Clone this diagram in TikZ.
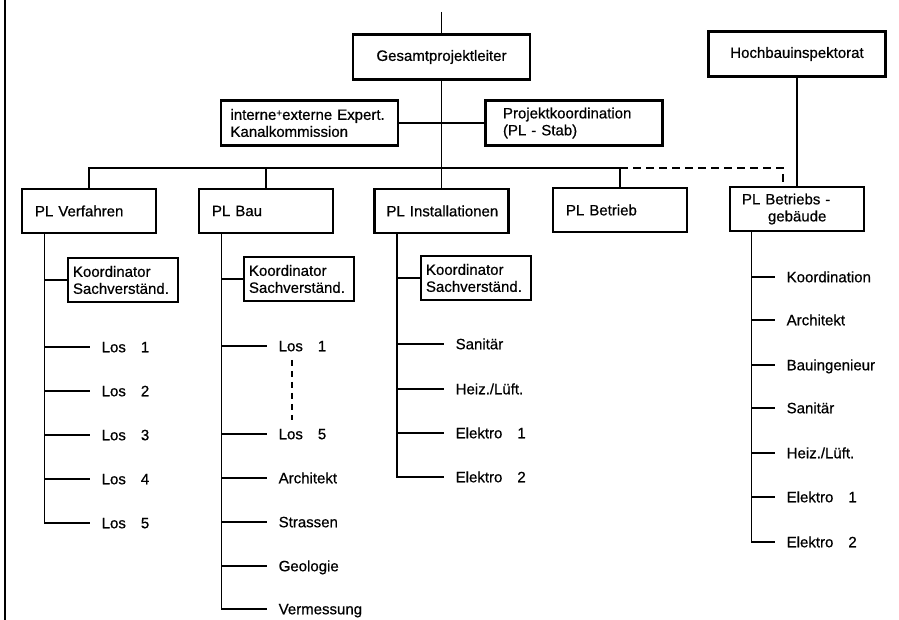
\documentclass[tikz,border=0pt]{standalone}
\usepackage{fontspec}
\setmainfont{Liberation Sans}[FakeBold=0.6]
\begin{document}
\begin{tikzpicture}[x=1pt,y=-1pt,line width=1.4pt,
    font=\fontsize{15}{17}\selectfont,
    head/.style={draw,line width=2.8pt,minimum width=177pt,minimum height=45pt},
    staff/.style={draw,line width=2.8pt,text width=158pt,inner xsep=9.5pt,minimum height=45pt,align=left},
    pl/.style={draw,line width=2.8pt,text width=116pt,inner xsep=9pt,minimum height=44pt,align=left},
    koord/.style={draw,line width=2.8pt,text width=100pt,inner xsep=5pt,minimum height=44pt,align=left},
    item/.style={anchor=west,inner xsep=11pt,inner ysep=3pt,text height=10.5pt,text depth=0pt}]
  \useasboundingbox (0,0) rectangle (899,620);
  \draw (5,0) -- (5,620);
  \draw
    (441.5,57) node[head] (gpl) {Gesamtprojektleiter}
    (797,54) node[head] (hbi) {Hochbauinspektorat}
    (309.5,123) node[staff] (exp) {interne\raisebox{.45ex}{\fontsize{10}{10}\selectfont+}externe Expert.\\Kanalkommission}
    (574,123) node[staff] (pk) {\hspace*{8pt}Projektkoordination\\\hspace*{8pt}(PL - Stab)}
    (89,211) node[pl] (verf) {\hspace*{4pt}PL Verfahren}
    (266,211) node[pl] (bau) {\hspace*{4pt}PL Bau}
    (441.5,211) node[pl] (inst) {\hspace*{3pt}PL Installationen}
    (620,210) node[pl] (betr) {\hspace*{4pt}PL Betrieb}
    (797,209) node[pl] (bgeb) {\hspace*{3pt}PL Betriebs -\\\hspace*{29pt}gebäude}
    (123,280) node[koord] (kv) {Koordinator\\Sachverständ.}
    (299,279) node[koord] (kb) {Koordinator\\Sachverständ.}
    (476,278) node[koord] (ki) {Koordinator\\Sachverständ.};
  % Los PL Verfahren
  \draw
    (90,347) node[item] (v1) {Los\quad 1}
    (90,391) node[item] (v2) {Los\quad 2}
    (90,435) node[item] (v3) {Los\quad 3}
    (90,479) node[item] (v4) {Los\quad 4}
    (90,523) node[item] (v5) {Los\quad 5};
  % PL Bau
  \draw
    (267,346) node[item] (b1) {Los\quad 1}
    (267,434) node[item] (b2) {Los\quad 5}
    (267,478) node[item] (b3) {Architekt}
    (267,522) node[item] (b4) {Strassen}
    (267,566) node[item] (b5) {Geologie}
    (267,609) node[item] (b6) {Vermessung};
  % PL Installationen
  \draw
    (444,344) node[item] (i1) {Sanitär}
    (444,389) node[item] (i2) {Heiz./Lüft.}
    (444,433) node[item] (i3) {Elektro\quad 1}
    (444,477) node[item] (i4) {Elektro\quad 2};
  % PL Betriebsgebaeude
  \draw
    (775,277) node[item] (g1) {Koordination}
    (775,320) node[item] (g2) {Architekt}
    (775,365) node[item] (g3) {Bauingenieur}
    (775,408) node[item] (g4) {Sanitär}
    (775,453) node[item] (g5) {Heiz./Lüft.}
    (775,497) node[item] (g6) {Elektro\quad 1}
    (775,542) node[item] (g7) {Elektro\quad 2};
  \coordinate (top) at (441.5,12);
  \coordinate (bus) at (441.5,168);
  \coordinate (vs) at ([xshift=24pt]verf.south west);
  \coordinate (bs) at ([xshift=24pt]bau.south west);
  \coordinate (is) at ([xshift=24pt]inst.south west);
  \coordinate (gs) at ([xshift=23pt]bgeb.south west);
  \begin{scope}[-]
    \draw (top) -- (gpl);
    \draw (gpl) -- (inst);
    \draw (exp) -- (pk);
    \draw (hbi) -- (bgeb);
    \draw (verf.north) |- (bus) -| (betr.north);
    \draw (bau.north) -- (bau.north |- bus);
    \draw[dash pattern=on 8pt off 5pt] (betr.north |- bus) -| ([xshift=-14pt]bgeb.north);
    \draw (vs) |- (v5);
    \draw (vs |- kv) -- (kv);
    \foreach \n in {v1,v2,v3,v4} {\draw (vs |- \n) -- (\n);}
    \draw (bs) |- (b6);
    \draw (bs |- kb) -- (kb);
    \foreach \n in {b1,b2,b3,b4,b5} {\draw (bs |- \n) -- (\n);}
    \draw[dash pattern=on 6pt off 5pt,line width=1.2pt,shorten <=5pt,shorten >=5pt]
      ([xshift=25pt]b1.south west) -- ([xshift=25pt]b2.north west);
    \draw (is) |- (i4);
    \draw (is |- ki) -- (ki);
    \foreach \n in {i1,i2,i3} {\draw (is |- \n) -- (\n);}
    \draw (gs) |- (g7);
    \foreach \n in {g1,g2,g3,g4,g5,g6} {\draw (gs |- \n) -- (\n);}
  \end{scope}
\end{tikzpicture}
\end{document}
